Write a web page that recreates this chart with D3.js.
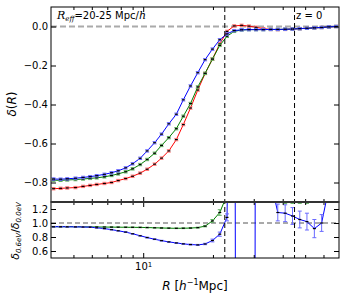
<!DOCTYPE html>
<html><head><meta charset="utf-8">
<script src="https://cdn.jsdelivr.net/npm/d3@7"></script>
<style>body{margin:0;background:#fff}svg text{font-family:"DejaVu Sans",sans-serif;}</style>
</head><body><svg id="c" width="346" height="299"></svg>
<script>
// ---- data ----
const R = [4.1,4.4,4.7,5.1,5.5,5.9,6.3,6.8,7.3,7.8,8.4,9.0,9.7,10.4,11.2,12.0,12.9,13.9,14.9,16.0,17.2,18.5,19.9,21.4,23.0,24.7,26.6,28.6,30.7,33.0,35.5,38.1,41.0,44.1,47.4,50.9,54.8,58.9,63.3,68.0];
const deltaRed = [-0.832,-0.830,-0.828,-0.826,-0.820,-0.815,-0.810,-0.805,-0.800,-0.790,-0.780,-0.768,-0.752,-0.732,-0.706,-0.675,-0.638,-0.580,-0.503,-0.418,-0.326,-0.241,-0.167,-0.089,-0.025,0.003,0.006,0.002,-0.004,-0.011,-0.015,-0.016,-0.015,-0.013,-0.011,-0.009,-0.007,-0.005,-0.002,0.000];
const deltaGreen = [-0.788,-0.789,-0.787,-0.785,-0.782,-0.779,-0.776,-0.771,-0.764,-0.756,-0.745,-0.730,-0.708,-0.682,-0.650,-0.610,-0.570,-0.524,-0.460,-0.395,-0.310,-0.240,-0.167,-0.097,-0.050,-0.025,-0.018,-0.016,-0.016,-0.016,-0.015,-0.015,-0.014,-0.013,-0.011,-0.009,-0.007,-0.005,-0.002,0.000];
const deltaBlue = [-0.782,-0.783,-0.781,-0.778,-0.774,-0.770,-0.765,-0.758,-0.750,-0.740,-0.725,-0.704,-0.676,-0.638,-0.596,-0.552,-0.499,-0.450,-0.376,-0.305,-0.237,-0.170,-0.116,-0.068,-0.038,-0.021,-0.017,-0.016,-0.016,-0.016,-0.015,-0.015,-0.014,-0.013,-0.011,-0.009,-0.007,-0.005,-0.002,0.000];
const errMain = 0.006;
const ratioGreen = [0.947,0.947,0.947,0.946,0.945,0.944,0.943,0.942,0.941,0.940,0.939,0.938,0.937,0.935,0.932,0.929,0.926,0.924,0.925,0.928,0.934,0.955,1.03,1.15,1.40,3.0,3.0,3.0,3.0,2.0,2.0,2.0,1.45,1.45,1.46,1.45,2.0,2.0,2.0,2.0];
const ratioGreenErr = [0.004,0.004,0.004,0.004,0.004,0.004,0.004,0.004,0.004,0.004,0.004,0.004,0.004,0.004,0.004,0.004,0.004,0.004,0.005,0.005,0.006,0.01,0.02,0.04,0.06,0.2,0.2,0.2,0.2,0.2,0.2,0.2,0.17,0.17,0.18,0.17,0.2,0.2,0.2,0.2];
const ratioBlue = [0.947,0.947,0.946,0.945,0.943,0.940,0.932,0.920,0.905,0.889,0.870,0.846,0.818,0.792,0.768,0.748,0.730,0.715,0.702,0.692,0.687,0.700,0.750,0.840,1.08,8,-40,-60,10,3,1.6,1.15,1.14,1.10,1.05,1.02,0.92,1.00,1.5,2.0];
const ratioBlueErr = [0.004,0.004,0.004,0.004,0.004,0.004,0.004,0.004,0.004,0.004,0.004,0.004,0.004,0.005,0.005,0.005,0.005,0.006,0.006,0.006,0.007,0.01,0.02,0.03,0.05,0.5,0.5,0.5,0.5,0.3,0.2,0.12,0.12,0.12,0.12,0.12,0.13,0.12,0.1,0.2];
const yTicksMain = [0.0,-0.2,-0.4,-0.6,-0.8];
const yTicksLow = [0.6,0.8,1.0,1.2];
const xMajor = [10];
const xMinor = [5,6,7,8,9,20,30,40,50,60];
const vLines = [22.5,45];

// ---- layout ----
const svg = d3.select("#c");
const L=51, Rr=339, T=7, M=202, B=258;
const x = d3.scaleLog().domain([4,70]).range([L,Rr]);
const yM = d3.scaleLinear().domain([-0.9,0.1]).range([M,T]);
const yL = d3.scaleLinear().domain([0.5,1.3]).range([B,M]);

const defs = svg.append("defs");
defs.append("clipPath").attr("id","cm").append("rect").attr("x",L).attr("y",T).attr("width",Rr-L).attr("height",M-T);
defs.append("clipPath").attr("id","cl").append("rect").attr("x",L).attr("y",M).attr("width",Rr-L).attr("height",B-M);

const colors = {red:"#ff0000", green:"#008000", blue:"#0000ff"};
const light = {red:"#ff7070", green:"#5fb05f", blue:"#6a6aff"};

// reference lines
const gm = svg.append("g").attr("clip-path","url(#cm)");
const gl = svg.append("g").attr("clip-path","url(#cl)");
gm.append("line").attr("x1",L).attr("x2",Rr).attr("y1",yM(0)).attr("y2",yM(0))
  .attr("stroke","#aaaaaa").attr("stroke-width",2).attr("stroke-dasharray","6,3");
gl.append("line").attr("x1",L).attr("x2",Rr).attr("y1",yL(1)).attr("y2",yL(1))
  .attr("stroke","#555").attr("stroke-width",1).attr("stroke-dasharray","5,3");
vLines.forEach(v=>{
  svg.append("line").attr("x1",x(v)).attr("x2",x(v)).attr("y1",T).attr("y2",B)
    .attr("stroke","#000").attr("stroke-width",1).attr("stroke-dasharray","5,3");
});

function series(g, y, vals, errs, key){
  const pts = R.map((r,i)=>({r, v:vals[i], e:(errs===null?errMain:errs[i])}));
  g.append("path").datum(pts)
    .attr("d", d3.line().x(d=>x(d.r)).y(d=>y(d.v)))
    .attr("fill","none").attr("stroke",colors[key]).attr("stroke-width",1);
  const eb = g.append("g").attr("stroke",light[key]).attr("stroke-width",1);
  pts.forEach(d=>{
    const xx=x(d.r);
    eb.append("line").attr("x1",xx).attr("x2",xx).attr("y1",y(d.v-d.e)).attr("y2",y(d.v+d.e));
    eb.append("line").attr("x1",xx-2).attr("x2",xx+2).attr("y1",y(d.v-d.e)).attr("y2",y(d.v-d.e));
    eb.append("line").attr("x1",xx-2).attr("x2",xx+2).attr("y1",y(d.v+d.e)).attr("y2",y(d.v+d.e));
  });
  const mk = g.append("g").attr("stroke","#000").attr("stroke-width",1.2);
  pts.forEach(d=>{
    const xx=x(d.r), yy=y(d.v);
    mk.append("line").attr("x1",xx-1.5).attr("x2",xx+1.5).attr("y1",yy).attr("y2",yy);
  });
}
series(gm, yM, deltaRed, null, "red");
series(gm, yM, deltaGreen, null, "green");
series(gm, yM, deltaBlue, null, "blue");
series(gl, yL, ratioGreen, ratioGreenErr, "green");
series(gl, yL, ratioBlue, ratioBlueErr, "blue");

// axes (inward ticks on all sides)
function strip(g){ g.select(".domain").remove(); g.selectAll("line").attr("stroke","#000"); g.selectAll("text").attr("font-size",10).attr("fill","#000").attr("font-family","DejaVu Sans"); }
const fmt = d3.format(".1f");
// main y
svg.append("g").attr("transform",`translate(${L},0)`).call(d3.axisLeft(yM).tickValues(yTicksMain).tickSize(-5).tickPadding(3).tickFormat(fmt)).call(strip);
svg.append("g").attr("transform",`translate(${Rr},0)`).call(d3.axisRight(yM).tickValues(yTicksMain).tickSize(-5).tickFormat("")).call(strip);
// low y
svg.append("g").attr("transform",`translate(${L},0)`).call(d3.axisLeft(yL).tickValues(yTicksLow).tickSize(-5).tickPadding(3).tickFormat(fmt)).call(strip);
svg.append("g").attr("transform",`translate(${Rr},0)`).call(d3.axisRight(yL).tickValues(yTicksLow).tickSize(-5).tickFormat("")).call(strip);
// x ticks, both panels top & bottom
[[T,"top"],[M,"bottom"],[M,"top"],[B,"bottom"]].forEach(([yy,side],i)=>{
  const mk = side==="top"? d3.axisTop : d3.axisBottom;
  svg.append("g").attr("transform",`translate(0,${yy})`).call(mk(x).tickValues(xMinor).tickSize(-3).tickFormat("")).call(strip);
  const gMaj = svg.append("g").attr("transform",`translate(0,${yy})`).call(mk(x).tickValues(xMajor).tickSize(-5).tickPadding(5).tickFormat(i===3?"10":""));
  gMaj.call(strip);
  if(i===3){
    gMaj.selectAll("text").attr("dy","0.71em").each(function(){
      const t=d3.select(this); t.text("");
      t.append("tspan").text("10");
      t.append("tspan").attr("font-size",7).attr("dy","-0.45em").text("1");
    });
  }
});
// frames
svg.append("rect").attr("x",L).attr("y",T).attr("width",Rr-L).attr("height",M-T).attr("fill","none").attr("stroke","#000").attr("stroke-width",1);
svg.append("rect").attr("x",L).attr("y",M).attr("width",Rr-L).attr("height",B-M).attr("fill","none").attr("stroke","#000").attr("stroke-width",1);
svg.append("line").attr("x1",L).attr("x2",Rr).attr("y1",M).attr("y2",M).attr("stroke","#333").attr("stroke-width",2);

// texts
const serif = "'DejaVu Serif', serif";
const ann = svg.append("text").attr("x",57).attr("y",19).attr("font-size",10);
ann.append("tspan").attr("font-family",serif).attr("font-style","italic").attr("font-size",11).text("R");
ann.append("tspan").attr("font-family",serif).attr("font-style","italic").attr("font-size",7).attr("dy",2).text("eff");
ann.append("tspan").attr("dy",-2).text("=20-25 Mpc/");
ann.append("tspan").attr("font-family",serif).attr("font-style","italic").attr("font-size",11).text("h");
svg.append("text").attr("x",296).attr("y",19).attr("font-size",10).text("z = 0");

const yl = svg.append("text").attr("transform","translate(16,104) rotate(-90)").attr("text-anchor","middle")
  .attr("font-family",serif).attr("font-size",12);
yl.append("tspan").attr("font-style","italic").text("δ");
yl.append("tspan").text("(");
yl.append("tspan").attr("font-style","italic").text("R");
yl.append("tspan").text(")");

const yl2 = svg.append("text").attr("transform","translate(19,231) rotate(-90)").attr("text-anchor","middle")
  .attr("font-family",serif).attr("font-size",11);
yl2.append("tspan").attr("font-style","italic").text("δ");
yl2.append("tspan").attr("font-style","italic").attr("font-size",7).attr("dy",2).text("0.6eV");
yl2.append("tspan").attr("dy",-2).text("/");
yl2.append("tspan").attr("font-style","italic").text("δ");
yl2.append("tspan").attr("font-style","italic").attr("font-size",7).attr("dy",2).text("0.0eV");

const xl = svg.append("text").attr("x",195).attr("y",290).attr("text-anchor","middle")
  .attr("font-family",serif).attr("font-size",12);
xl.append("tspan").attr("font-style","italic").text("R");
xl.append("tspan").text(" [");
xl.append("tspan").attr("font-style","italic").text("h");
xl.append("tspan").attr("font-size",8).attr("dy",-5).text("−1");
xl.append("tspan").attr("dy",5).text("Mpc]");
</script></body></html>
